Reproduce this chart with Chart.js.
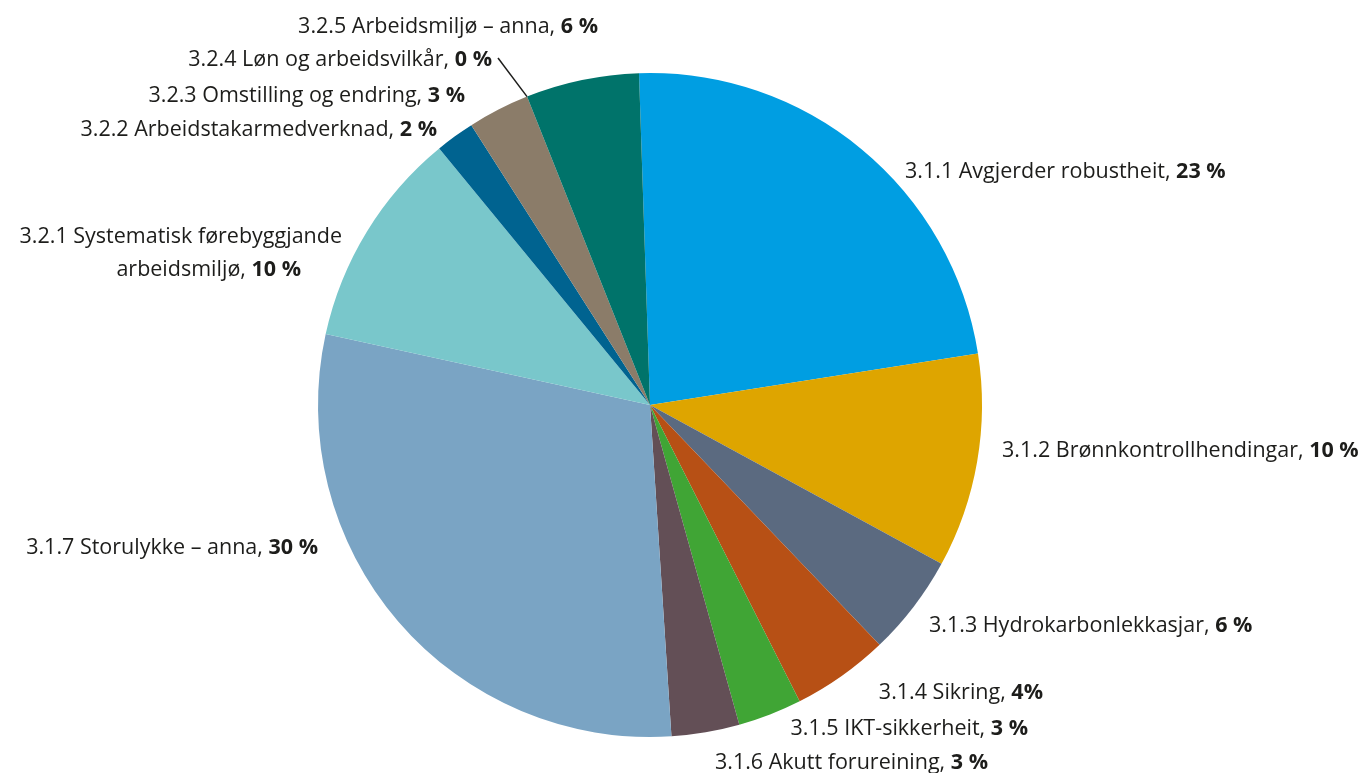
<!DOCTYPE html>
<html>
<head>
<meta charset="utf-8">
<script src="https://cdn.jsdelivr.net/npm/chart.js@4.4.1/dist/chart.umd.min.js"></script>
<style>
  html, body { margin: 0; padding: 0; background: #fff; }
  #wrap { width: 1364px; height: 773px; position: relative; }
</style>
</head>
<body>
<div id="wrap"><canvas id="pie"></canvas></div>
<script>
// categories, clockwise from the top
const categories = [
  '3.1.1 Avgjerder robustheit',
  '3.1.2 Brønnkontrollhendingar',
  '3.1.3 Hydrokarbonlekkasjar',
  '3.1.4 Sikring',
  '3.1.5 IKT-sikkerheit',
  '3.1.6 Akutt forureining',
  '3.1.7 Storulykke – anna',
  '3.2.1 Systematisk førebyggjande\narbeidsmiljø',
  '3.2.2 Arbeidstakarmedverknad',
  '3.2.3 Omstilling og endring',
  '3.2.4 Løn og arbeidsvilkår',
  '3.2.5 Arbeidsmiljø – anna'
];
// slice sizes (percent)
const shares = [23.0, 10.4, 4.9, 4.7, 3.1, 3.3, 29.4, 10.6, 1.9, 3.0, 0, 5.5];
// percent text as printed next to each slice
const pctLabels = ['23 %', '10 %', '6 %', '4%', '3 %', '3 %', '30 %', '10 %', '2 %', '3 %', '0 %', '6 %'];

const colours = ['#009ee2', '#dea500', '#5b6a80', '#b75015', '#40a535', '#634f56',
                 '#7aa4c4', '#79c7cb', '#006390', '#8b7c69', '#888888', '#00736a'];

// where each label sits, relative to the pie centre (px)
const labelLayout = [
  { dx: 255, dy: -233, align: 'left' },
  { dx: 352, dy: 46, align: 'left' },
  { dx: 279, dy: 221, align: 'left' },
  { dx: 393, dy: 288, align: 'right' },
  { dx: 378, dy: 324, align: 'right' },
  { dx: 338, dy: 358, align: 'right' },
  { dx: -332, dy: 143, align: 'right' },
  { dx: [-308, -349], dy: -168, align: 'right' },
  { dx: -213, dy: -275, align: 'right' },
  { dx: -185, dy: -309, align: 'right' },
  { dx: -158, dy: -345, align: 'right', leader: true },
  { dx: -52, dy: -378, align: 'right' }
];

const fontFam = '"Open Sans", "Noto Sans", sans-serif';
const normalFont = '21.5px ' + fontFam;
const boldFont = 'bold 21.5px ' + fontFam;
const lineH = 33;

const sliceLabels = {
  id: 'sliceLabels',
  afterDraw(chart) {
    const ctx = chart.ctx;
    const arcs = chart.getDatasetMeta(0).data;
    const cx = arcs[0].x, cy = arcs[0].y;
    ctx.save();
    ctx.fillStyle = '#1d1d1b';
    ctx.textBaseline = 'middle';
    ctx.textAlign = 'left';
    for (let i = 0; i < categories.length; i++) {
      const lay = labelLayout[i];
      const lines = (categories[i] + ', ').split('\n');
      let endX = 0, endY = 0;
      for (let j = 0; j < lines.length; j++) {
        const last = j === lines.length - 1;
        ctx.font = normalFont;
        const w1 = ctx.measureText(lines[j]).width;
        let w2 = 0;
        if (last) {
          ctx.font = boldFont;
          w2 = ctx.measureText(pctLabels[i]).width;
        }
        let x = cx + (Array.isArray(lay.dx) ? lay.dx[j] : lay.dx);
        const y = cy + lay.dy + j * lineH;
        if (lay.align === 'right') x -= w1 + w2;
        ctx.font = normalFont;
        ctx.fillText(lines[j], x, y);
        if (last) {
          ctx.font = boldFont;
          ctx.fillText(pctLabels[i], x + w1, y);
          endX = x + w1 + w2;
          endY = y;
        }
      }
      // leader line for the slice that is too thin to see
      if (lay.leader) {
        const a = arcs[i];
        const ang = a.startAngle;
        ctx.beginPath();
        ctx.strokeStyle = '#1d1d1b';
        ctx.lineWidth = 1.5;
        ctx.moveTo(endX + 6, endY - 2);
        ctx.lineTo(cx + Math.cos(ang) * a.outerRadius, cy + Math.sin(ang) * a.outerRadius);
        ctx.stroke();
      }
    }
    ctx.restore();
  }
};

new Chart(document.getElementById('pie'), {
  type: 'pie',
  data: {
    labels: categories,
    datasets: [{
      data: shares,
      backgroundColor: colours,
      borderWidth: 0,
      hoverOffset: 0
    }]
  },
  options: {
    responsive: true,
    maintainAspectRatio: false,
    animation: false,
    rotation: -1.9,
    layout: { padding: { left: 318, right: 382, top: 73, bottom: 36 } },
    plugins: {
      legend: { display: false },
      tooltip: { enabled: false }
    }
  },
  plugins: [sliceLabels]
});
</script>
</body>
</html>
